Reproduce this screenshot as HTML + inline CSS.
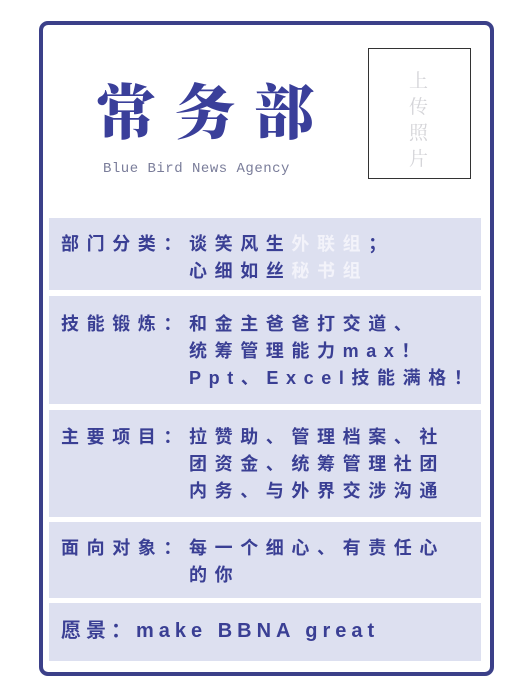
<!DOCTYPE html>
<html><head><meta charset="utf-8"><style>
body{margin:0;width:513px;height:700px;background:#fff;position:relative;overflow:hidden;font-family:"Liberation Sans","Noto Sans CJK SC",sans-serif;}
.card{position:absolute;left:39px;top:21px;width:447px;height:647px;border:4px solid #3b4089;border-radius:9px;}
.title{position:absolute;left:96px;top:74px;font-family:"Liberation Serif","Noto Serif CJK SC",serif;font-weight:900;font-size:60px;letter-spacing:19px;color:#3a3f9a;line-height:80px;white-space:nowrap;}
.sub{position:absolute;left:103px;top:161px;font-family:"Liberation Mono",monospace;font-size:14px;color:#7a7d9a;letter-spacing:0.5px;white-space:nowrap;}
.photo{position:absolute;left:368px;top:48px;width:101px;height:129px;border:1px solid #333;}
.photo span{position:absolute;left:40px;top:18px;width:20px;font-family:"Noto Serif CJK SC",serif;font-size:19px;line-height:26px;color:#d4d4d8;}
.panel{position:absolute;left:49px;width:432px;background:#dde0f0;}
.row{position:absolute;left:61px;font-size:18px;letter-spacing:7.6px;line-height:27px;color:#3a3f94;font-weight:bold;white-space:nowrap;}
.w{color:#f3f3fa;}
</style></head><body>
<div class="card"></div>
<div class="title">常务部</div>
<div class="sub">Blue Bird News Agency</div>
<div class="photo"><span>上传照片</span></div>

<div class="panel" style="top:218px;height:72px"></div>
<div class="row" style="top:231px">部门分类：谈笑风生<span class="w">外联组</span>；<br><span style="padding-left:128px">心细如丝<span class="w">秘书组</span></span></div>

<div class="panel" style="top:296px;height:108px"></div>
<div class="row" style="top:311px">技能锻炼：和金主爸爸打交道、<br><span style="padding-left:128px">统筹管理能力max！</span><br><span style="padding-left:128px">Ppt、Excel技能满格！</span></div>

<div class="panel" style="top:410px;height:107px"></div>
<div class="row" style="top:424px">主要项目：拉赞助、管理档案、社<br><span style="padding-left:128px">团资金、统筹管理社团</span><br><span style="padding-left:128px">内务、与外界交涉沟通</span></div>

<div class="panel" style="top:522px;height:76px"></div>
<div class="row" style="top:535px">面向对象：每一个细心、有责任心<br><span style="padding-left:128px">的你</span></div>

<div class="panel" style="top:603px;height:58px"></div>
<div class="row" style="top:618px;font-size:20px;letter-spacing:5px">愿景：make BBNA great</div>
</body></html>
